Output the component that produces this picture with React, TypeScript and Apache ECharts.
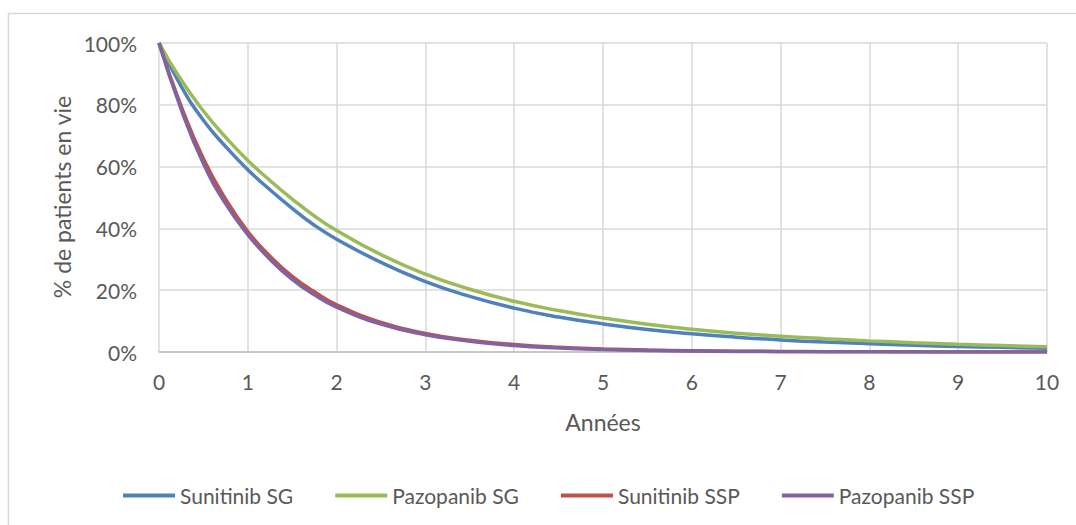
import React, { useEffect, useRef } from "react";
import * as echarts from "echarts";

const years = [0, 0.25, 0.5, 0.75, 1, 1.25, 1.5, 1.75, 2, 2.5, 3, 3.5, 4, 4.5, 5, 5.5, 6, 6.5, 7, 7.5, 8, 8.5, 9, 9.5, 10];
const sunitinibSG = [100, 86, 75, 66.5, 59, 52.5, 46.5, 41, 36.5, 29, 22.8, 18, 14.2, 11.3, 9.1, 7.3, 5.9, 4.8, 3.9, 3.2, 2.7, 2.2, 1.8, 1.5, 1.2];
const pazopanibSG = [100, 88, 78, 69.5, 62, 55.5, 49.5, 44, 39.3, 31.5, 25.2, 20.3, 16.4, 13.4, 11.0, 9.0, 7.4, 6.1, 5.1, 4.3, 3.6, 3.0, 2.5, 2.1, 1.7];
const sunitinibSSP = [100, 79.5, 62.5, 49.5, 39, 31, 24.5, 19.5, 15.3, 9.6, 6.0, 3.8, 2.4, 1.5, 1.0, 0.65, 0.42, 0.27, 0.18, 0.12, 0.08, 0.05, 0.03, 0.02, 0.01];
const pazopanibSSP = [100, 78.5, 61, 48, 38, 30, 23.5, 18.5, 14.5, 9.0, 5.6, 3.5, 2.1, 1.3, 0.8, 0.5, 0.32, 0.2, 0.12, 0.08, 0.05, 0.03, 0.02, 0.01, 0.01];
const seriesNames = ["Sunitinib SG", "Pazopanib SG", "Sunitinib SSP", "Pazopanib SSP"];
const colors = ["#4F81BD", "#9BBB59", "#C0504D", "#8064A2"];
const xTitle = "Années";
const yTitle = "% de patients en vie";

const FONT = "Lato, 'Open Sans', sans-serif";
const TXT = "#595959";

export default function App() {
  const ref = useRef<HTMLDivElement>(null);
  useEffect(() => {
    if (!ref.current) return;
    const chart = echarts.init(ref.current, null, { renderer: "svg" });
    const all = [sunitinibSG, pazopanibSG, sunitinibSSP, pazopanibSSP];
    chart.setOption({
      animation: false,
      backgroundColor: "#ffffff",
      textStyle: { fontFamily: FONT },
      grid: { left: 159, right: 29, top: 43, bottom: 173 },
      xAxis: {
        type: "value",
        min: 0,
        max: 10,
        interval: 1,
        axisLine: { show: true, lineStyle: { color: "#bfbfbf", width: 1.5 } },
        axisTick: { show: false },
        axisLabel: { color: TXT, fontSize: 21, margin: 19, fontFamily: FONT },
        splitLine: { show: true, lineStyle: { color: "#d9d9d9", width: 1.5 } },
      },
      yAxis: {
        type: "value",
        min: 0,
        max: 100,
        interval: 20,
        axisLine: { show: false },
        axisTick: { show: false },
        axisLabel: { color: TXT, fontSize: 21, margin: 22, formatter: "{value}%", fontFamily: FONT },
        splitLine: { show: true, lineStyle: { color: "#d9d9d9", width: 1.5 } },
      },
      legend: {
        left: 118,
        top: 480,
        icon: "rect",
        itemWidth: 52,
        itemHeight: 4,
        itemGap: 42,
        textStyle: { color: TXT, fontSize: 21, fontFamily: FONT },
        data: seriesNames,
      },
      series: all.map((vals, i) => ({
        name: seriesNames[i],
        type: "line",
        smooth: true,
        showSymbol: false,
        symbol: "none",
        color: colors[i],
        lineStyle: { color: colors[i], width: 3.5 },
        data: years.map((y, j) => [y, vals[j]]),
      })),
      graphic: [
        {
          type: "rect",
          shape: { x: 8.5, y: 13.5, width: 1200, height: 700 },
          style: { fill: "none", stroke: "#d9d9d9", lineWidth: 1.5 },
          silent: true,
          z: -1,
        },
        {
          type: "text",
          x: 603,
          y: 422,
          style: { text: xTitle, fill: TXT, font: "23px Lato, sans-serif", align: "center", verticalAlign: "middle" },
        },
        {
          type: "text",
          x: 62,
          y: 197,
          rotation: Math.PI / 2,
          style: { text: yTitle, fill: TXT, font: "23px Lato, sans-serif", align: "center", verticalAlign: "middle" },
        },
      ],
    });
    return () => chart.dispose();
  }, []);
  return <div ref={ref} style={{ position: "fixed", left: 0, top: 0, width: 1076, height: 525 }} />;
}
